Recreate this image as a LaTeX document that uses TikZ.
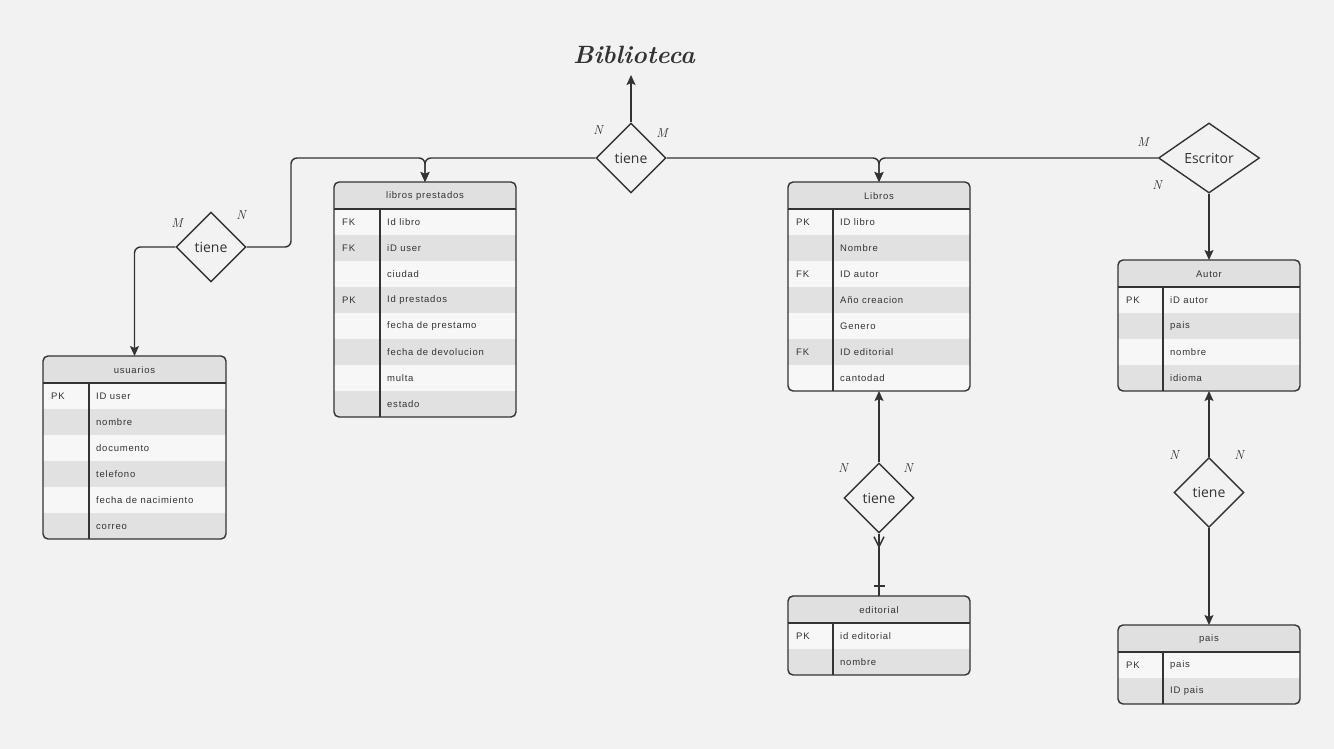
\documentclass[tikz,border=0pt]{standalone}
\usepackage{fontspec}
\usetikzlibrary{arrows.meta,shapes.geometric}
\newfontfamily\tabfont[LetterSpace=8]{Liberation Sans}
\newfontfamily\relfont{Open Sans}
\definecolor{bg}{HTML}{F2F2F2}
\definecolor{ink}{HTML}{333333}
\definecolor{headfill}{HTML}{E0E0E0}
\definecolor{rowA}{HTML}{F7F7F7}
\definecolor{rowB}{HTML}{E1E1E1}
\tikzset{
  conn/.style={draw=ink, line width=1.4pt, rounded corners=6pt},
  arr/.style={conn, -{Stealth[length=10pt,width=9pt,inset=2pt]}},
  tabline/.style={draw=ink, line width=1.4pt},
  celltxt/.style={anchor=west, inner sep=0pt, text=ink, font=\tabfont\fontsize{9.5}{10}\selectfont},
  rel/.style={diamond, draw=ink, line width=1.4pt, fill=bg, inner sep=0pt, minimum width=70pt, minimum height=70pt, text=ink, font=\relfont\fontsize{14}{16}\selectfont},
  card/.style={text=ink, inner sep=0pt, font=\fontsize{13}{14}\selectfont\itshape},
}
\newcommand{\ertab}[7]{%
  \def\tabrows{#7}%
  \xdef\tabN{0}%
  \foreach \k/\f [count=\i] in \tabrows {\xdef\tabN{\i}}%
  \pgfmathsetmacro{\tabB}{#3+27+26*\tabN}%
  \pgfmathsetmacro{\tabW}{#4-#2}%
  \pgfmathsetmacro{\tabH}{\tabB-#3}%
  \begin{scope}
    \clip[rounded corners=5pt] (#2,#3) rectangle (#4,\tabB);
    \fill[headfill] (#2,#3) rectangle (#4,#3+27);
    \foreach \k/\f [count=\i] in \tabrows {%
      \pgfmathsetmacro{\ya}{#3+27+26*(\i-1)}%
      \pgfmathtruncatemacro{\odd}{mod(\i,2)}%
      \ifnum\odd=1 \fill[rowA] (#2,\ya) rectangle (#4,\ya+26);\else\fill[rowB] (#2,\ya) rectangle (#4,\ya+26);\fi
      \node[celltxt] at (#2+8,\ya+13.5) {\k};
      \node[celltxt] at (#5+7,\ya+13.5) {\f};
    }
  \end{scope}
  \node[celltxt, anchor=center] at ({(#2+#4)/2},#3+14) {#6};
  \draw[tabline] (#2,#3+27) -- (#4,#3+27);
  \draw[tabline] (#5,#3+27) -- (#5,\tabB);
  \node[draw=ink, line width=1.4pt, rounded corners=5pt, inner sep=0pt, outer sep=0pt,
        minimum width=\tabW pt, minimum height=\tabH pt, anchor=north west] (#1) at (#2,#3) {};
}
\begin{document}
\begin{tikzpicture}[x=1pt,y=-1pt]
\useasboundingbox[fill=bg] (0,0) rectangle (1334,749);

% tables
\ertab{lp}{334}{182}{516}{380}{libros prestados}{FK/Id libro, FK/iD user, /ciudad, PK/Id prestados, /fecha de prestamo, /fecha de devolucion, /multa, /estado}
\ertab{us}{43}{356}{226}{89}{usuarios}{PK/ID user, /nombre, /documento, /telefono, /fecha de nacimiento, /correo}
\ertab{lb}{788}{182}{970}{833}{Libros}{PK/ID libro, /Nombre, FK/ID autor, /Año creacion, /Genero, FK/ID editorial, /cantodad}
\ertab{au}{1118}{260}{1300}{1163}{Autor}{PK/iD autor, /pais, /nombre, /idioma}
\ertab{ed}{788}{596}{970}{833}{editorial}{PK/id editorial, /nombre}
\ertab{pa}{1118}{625}{1300}{1163}{pais}{PK/pais, /ID pais}

% title
\node[text=ink, inner sep=0pt, font=\fontsize{25}{28}\selectfont\itshape\bfseries] (bib) at (634,55) {Biblioteca};
\coordinate (bibin) at (631,75);

% relationships
\node[rel] (tc) at (631,158) {tiene};
\node[rel] (tl) at (211,247) {tiene};
\node[rel, minimum width=101pt] (esc) at (1209,158) {Escritor};
\node[rel] (t3) at (879,498) {tiene};
\node[rel] (t4) at (1209,492.5) {tiene};

% junctions
\coordinate (jL) at (425,158);
\coordinate (jU) at (291,158);
\coordinate (jD) at (291,247);
\coordinate (jR) at (879,158);

% connectors
\draw[arr] (tc.north) -- (bibin);
\draw[arr] (tc.west) -- (jL) -- (lp.north);
\draw[arr] (tl.east) -- (jD) -- (jU) -- (jL) -- (lp.north);
\draw[arr] (tl.west) -| (us.north);
\draw[arr] (tc.east) -- (jR) -- (lb.north);
\draw[arr] (esc.west) -- (jR) -- (lb.north);
\draw[arr] (esc.south) -- (au.north);
\draw[arr] (t3.north) -- (lb.south);
\draw[conn] (t3.south) -- (ed.north);
\draw[conn, rounded corners=0pt] ([xshift=-5pt,yshift=-3pt]t3.south) -- ([yshift=-13pt]t3.south) -- ([xshift=5pt,yshift=-3pt]t3.south);
\draw[conn, rounded corners=0pt] ([xshift=-5.5pt,yshift=10pt]ed.north) -- ([xshift=5.5pt,yshift=10pt]ed.north);
\draw[arr] (t4.north) -- (au.south);
\draw[arr] (t4.south) -- (pa.north);

% cardinalities
\node[card] (c1) at (598,130) {N};
\node[card] (c2) at (662,133) {M};
\node[card] (c3) at (177,223) {M};
\node[card] (c4) at (241,215) {N};
\node[card] (c5) at (1143,142) {M};
\node[card] (c6) at (1157,185) {N};
\node[card] (c7) at (843,468) {N};
\node[card] (c8) at (908,468) {N};
\node[card] (c9) at (1174,455) {N};
\node[card] (c10) at (1239,455) {N};
\end{tikzpicture}
\end{document}
